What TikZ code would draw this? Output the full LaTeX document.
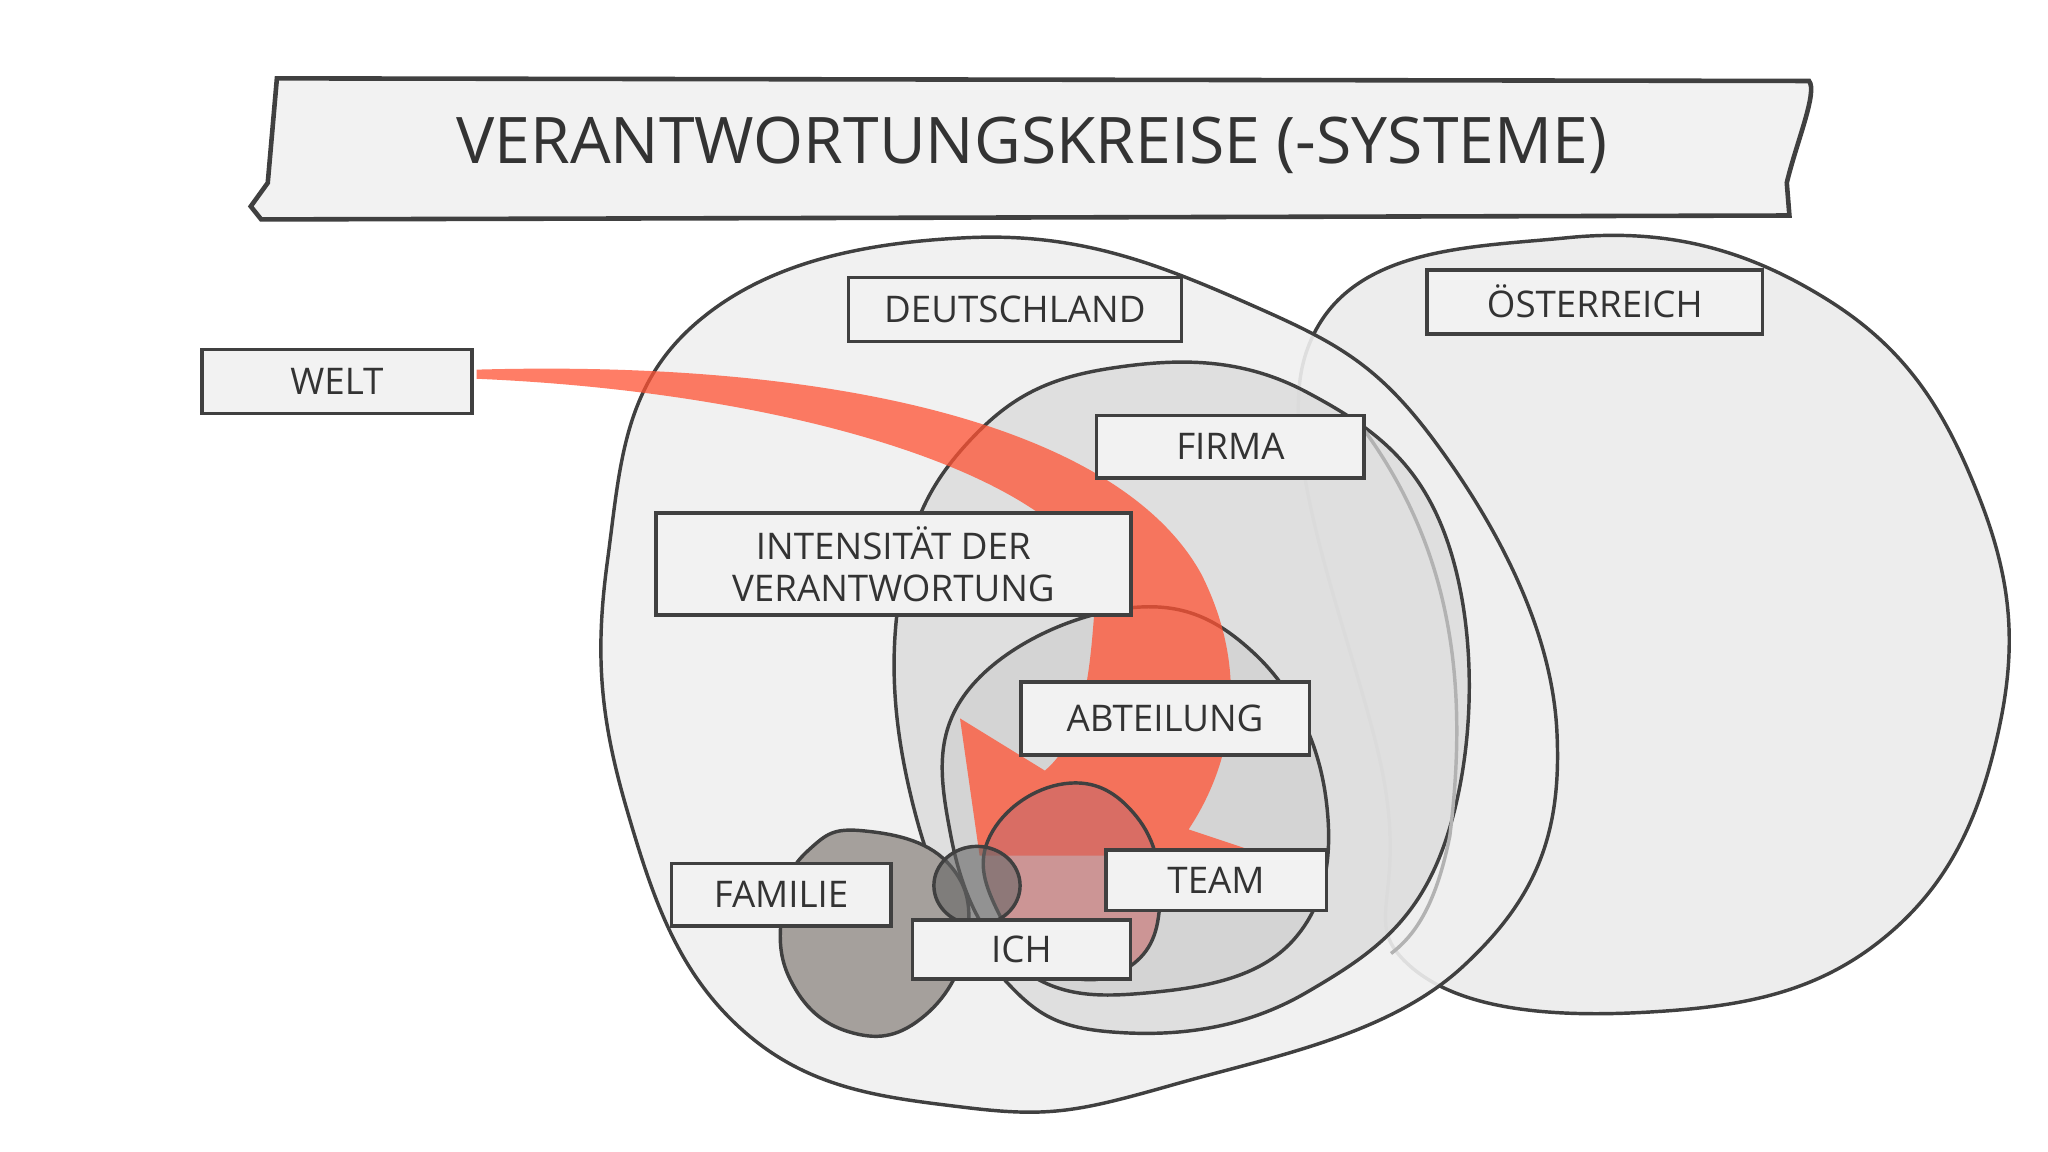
\documentclass[tikz,border=0pt]{standalone}
\usepackage{fontspec}
\setmainfont{Open Sans}
\definecolor{famgray}{RGB}{165,160,156}
\tikzset{
  lbl/.style={draw=black!75, line width=1.6pt, fill=gray!10, font=\fontsize{16}{18}\selectfont, align=center, inner sep=0pt, text=black!80},
  blob/.style={draw=black!75, line width=1.5pt},
}
\begin{document}
\begin{tikzpicture}[x=0.02cm,y=-0.02cm]
\useasboundingbox[fill=white] (0,0) rectangle (1568,882);
% Oesterreich
\draw[blob, fill=gray!14] plot[smooth cycle, tension=0.7] coordinates {(1000,270) (1200,182) (1400,230) (1515,380) (1530,560) (1440,720) (1260,775) (1080,740) (1060,600)};
% Deutschland
\draw[blob, fill=gray!12, fill opacity=0.9] plot[smooth cycle, tension=0.7] coordinates {(740,182) (950,230) (1100,340) (1192,560) (1120,740) (900,830) (740,848) (570,790) (480,620) (465,430) (530,250)};
% Firma
\draw[blob, fill=gray!28, fill opacity=0.8] plot[smooth cycle, tension=0.7] coordinates {(850,282) (1000,300) (1110,420) (1108,640) (1000,760) (850,790) (760,740) (700,620) (688,460) (740,340)};
\draw[gray!60, line width=1.5pt] (1045,330) .. controls (1110,420) and (1125,520) .. (1110,640) .. controls (1100,690) and (1085,715) .. (1065,730);
% Abteilung
\draw[blob, fill=gray!35, fill opacity=0.8] plot[smooth cycle, tension=0.7] coordinates {(860,466) (960,500) (1015,610) (990,720) (880,760) (780,740) (728,640) (740,530)};
% Familie
\draw[blob, fill=famgray] plot[smooth cycle, tension=0.75] coordinates {(660,636) (725,660) (740,720) (705,780) (650,790) (605,750) (600,690) (620,650)};
% red arrow
\fill[red!70!orange!80, opacity=0.75] (365,283) .. controls (650,275) and (860,330) .. (920,440) .. controls (960,520) and (940,590) .. (910,635) -- (970,655) -- (750,655) -- (735,550) -- (800,590) .. controls (835,560) and (835,500) .. (840,440) .. controls (800,360) and (600,300) .. (365,290) -- cycle;
% Team
\draw[blob, fill=red!45!gray!80, fill opacity=0.6] plot[smooth cycle, tension=0.75] coordinates {(815,600) (870,625) (888,690) (865,740) (810,745) (765,700) (758,640)};
% Ich
\draw[blob, fill=black!60, fill opacity=0.6] (748,678) ellipse (33 and 30);
% Title banner
\draw[line width=2pt, draw=black!75, fill=gray!10] (212,60) -- (1385,62) .. controls (1392,70) and (1375,110) .. (1368,140) -- (1370,165) -- (200,168) -- (192,158) -- (205,140) -- cycle;
\node[font=\fontsize{28}{32}\selectfont, text=black!80] (title) at (790,111) {VERANTWORTUNGSKREISE (-SYSTEME)};
% labels
\node[lbl, minimum width=4.14cm, minimum height=0.98cm] (welt) at (258,292) {WELT};
\node[lbl, minimum width=5.1cm, minimum height=0.98cm] (de) at (777,237) {DEUTSCHLAND};
\node[lbl, minimum width=5.14cm, minimum height=0.98cm] (at) at (1221,231) {ÖSTERREICH};
\node[lbl, minimum width=4.1cm, minimum height=0.96cm] (firma) at (942,342) {FIRMA};
\node[lbl, minimum width=7.28cm, minimum height=1.56cm] (int) at (684,432) {INTENSITÄT DER\\VERANTWORTUNG};
\node[lbl, minimum width=4.42cm, minimum height=1.12cm] (abt) at (892,550) {ABTEILUNG};
\node[lbl, minimum width=3.38cm, minimum height=0.92cm] (team) at (931,674) {TEAM};
\node[lbl, minimum width=3.36cm, minimum height=0.96cm] (fam) at (598,685) {FAMILIE};
\node[lbl, minimum width=3.34cm, minimum height=0.9cm] (ich) at (782,727) {ICH};
\end{tikzpicture}
\end{document}
